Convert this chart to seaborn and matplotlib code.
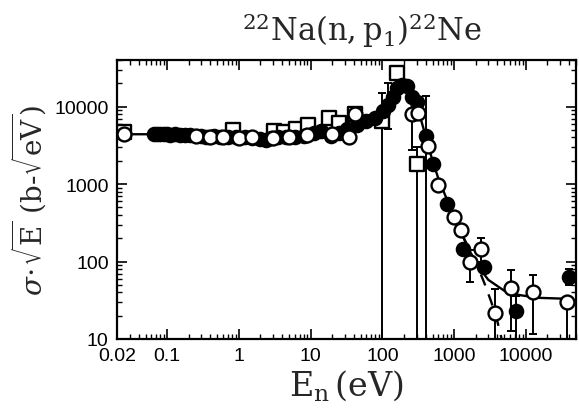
import numpy as np
import pandas as pd
import matplotlib
matplotlib.use("Agg")
import matplotlib.pyplot as plt
import seaborn as sns

# --- data (E in eV, sigma*sqrt(E) in b-sqrt(eV)) ---
fill_E = [0.065, 0.072, 0.08, 0.09, 0.1, 0.11, 0.13, 0.15, 0.18, 0.21, 0.3, 0.35,
          0.45, 0.55, 0.7, 0.9, 1.2, 1.5, 2.0, 2.4, 2.8, 3.5, 4.5, 6, 8, 11, 14, 19,
          25, 32, 45, 60, 80, 103, 121, 140, 162, 190, 220, 260, 300, 400, 510, 800,
          1330, 2620, 7200, 40000]
fill_v = [4450, 4400, 4450, 4400, 4400, 4350, 4400, 4300, 4350, 4300, 4200, 4100,
          4150, 4050, 4000, 4100, 4050, 3900, 3800, 3700, 3900, 4000, 4000, 4100, 4200,
          4500, 4800, 4200, 4500, 5200, 5800, 6500, 7200, 8800, 10500, 13500, 17500,
          19000, 18500, 13500, 11500, 4150, 1800, 560, 145, 86, 23, 64]
fill_lo = {121: 5200, 400: 10, 7200: 10, 40000: 50}
fill_hi = {121: 20000, 400: 13900, 7200: 36, 40000: 80}

open_E = [0.025, 0.25, 0.4, 0.6, 1.0, 1.5, 3, 5, 9, 20, 34, 42, 260, 316, 437,
          600, 1000, 1250, 1660, 2370, 3720, 6200, 12500, 38000]
open_v = [4400, 4200, 4000, 4000, 3950, 4050, 3900, 4000, 4300, 4400, 4000, 8100,
          8000, 8300, 3070, 970, 375, 257, 100, 147, 21.6, 45, 41, 30]
open_lo = {260: 2750, 1660: 55, 2370: 100, 3720: 10, 6200: 12.7, 12500: 11.6, 38000: 10}
open_hi = {260: 11000, 1660: 140, 2370: 200, 3720: 44, 6200: 77, 12500: 68, 38000: 30}

sq_E = [0.025, 0.83, 3.06, 4.2, 6.2, 9.1, 17.8, 25, 42, 100, 162, 307]
sq_v = [4650, 5040, 4900, 4650, 5200, 5800, 7100, 6200, 8100, 6600, 27500, 1800]
sq_lo = {100: 10, 307: 10}
sq_hi = {100: 15000, 307: 3000}

fit_E = [0.02, 0.1, 0.5, 1, 2, 3, 5, 10, 20, 40, 60, 80, 100, 130, 160, 200, 230,
         260, 300, 350, 400, 500, 600, 800, 1000, 1300, 1700, 2200, 3000, 5000,
         8000, 15000, 40000]
fit_v = [4400, 4400, 4300, 4150, 4000, 4000, 4100, 4500, 5000, 5900, 6800, 8000,
         9500, 13000, 16500, 19000, 19000, 16000, 11000, 6500, 4200, 2000, 1200,
         620, 380, 220, 130, 85, 58, 42, 37, 34, 33]

dash_E = [1000, 1300, 1700, 2200, 2700, 3300, 4000, 4600]
dash_v = [380, 220, 130, 80, 50, 30, 17, 10]

xticks = [0.02, 0.1, 1, 10, 100, 1000, 10000]
xticklabels = ["0.02", "0.1", "1", "10", "100", "1000", "10000"]
yticks = [10, 100, 1000, 10000]
yticklabels = ["10", "100", "1000", "10000"]


def make_df(E, v, lo, hi):
    df = pd.DataFrame({"E": E, "v": v})
    df["lo"] = df["E"].map(lo)
    df["hi"] = df["E"].map(hi)
    return df


fill = make_df(fill_E, fill_v, fill_lo, fill_hi)
opn = make_df(open_E, open_v, open_lo, open_hi)
sq = make_df(sq_E, sq_v, sq_lo, sq_hi)

sns.set_style("ticks")
plt.rcParams["font.family"] = ["Liberation Sans", "DejaVu Sans"]
plt.rcParams["mathtext.fontset"] = "dejavuserif"

fig = plt.figure(figsize=(5.79, 4.10), dpi=100)
ax = fig.add_axes([117 / 579, 1 - 340 / 410, (576 - 117) / 579, (340 - 61) / 410])
ax.set_xscale("log")
ax.set_yscale("log")

sns.lineplot(x=fit_E, y=fit_v, ax=ax, color="black", lw=1.7, sort=False,
             estimator=None, zorder=2)
sns.lineplot(x=dash_E, y=dash_v, ax=ax, color="black", lw=1.7, sort=False,
             estimator=None, linestyle=(0, (5, 4)), zorder=2)

# error bars
for d in (fill, opn, sq):
    e = d.dropna()
    ax.errorbar(e["E"], e["v"], yerr=[e["v"] - e["lo"], e["hi"] - e["v"]],
                fmt="none", ecolor="black", elinewidth=1.4, capsize=3,
                capthick=1.4, zorder=3)

sns.scatterplot(data=sq, x="E", y="v", ax=ax, marker="s", s=95,
                facecolor="white", edgecolor="black", linewidth=1.7, zorder=4)
sns.scatterplot(data=fill, x="E", y="v", ax=ax, marker="o", s=100,
                color="black", edgecolor="black", linewidth=1.2, zorder=5)
sns.scatterplot(data=opn, x="E", y="v", ax=ax, marker="o", s=100,
                facecolor="white", edgecolor="black", linewidth=1.7, zorder=6)

ax.set_xlim(0.02, 50000)
ax.set_ylim(10, 40000)
ax.set_xticks(xticks)
ax.set_xticklabels(xticklabels)
ax.set_yticks(yticks)
ax.set_yticklabels(yticklabels)
ax.tick_params(which="both", direction="in", top=True, right=True,
               labelsize=14, colors="black")
ax.tick_params(which="major", length=7, width=1.2, pad=6)
ax.tick_params(which="minor", length=3.5, width=1.0)
for s in ax.spines.values():
    s.set_linewidth(1.6)
    s.set_color("black")

ax.set_xlabel(r"$\mathrm{E_n\,(eV)}$", fontsize=24, labelpad=2)
ax.set_ylabel(r"$\sigma\!\cdot\!\sqrt{\mathrm{E}}\ \mathrm{(b\text{-}\sqrt{eV})}$",
              fontsize=20, labelpad=4)
fig.text(0.625, 0.925, r"$\mathrm{^{22}Na(n,p_1)^{22}Ne}$", fontsize=22,
         ha="center", va="center")

fig.savefig("out.png", dpi=100)
